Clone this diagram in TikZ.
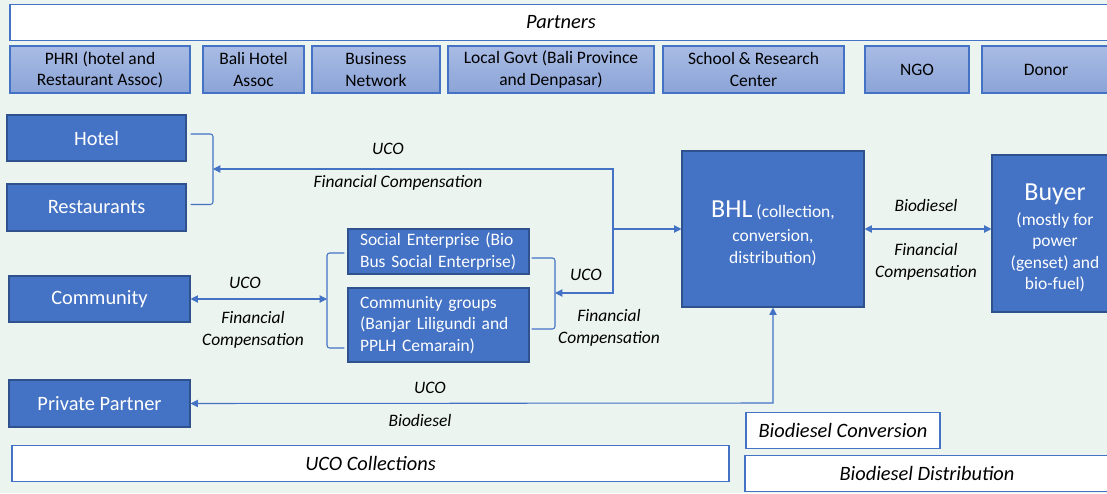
\documentclass[tikz,border=0pt]{standalone}
\usepackage{fontspec}
\setmainfont{Carlito}
\usetikzlibrary{arrows.meta, positioning}

\definecolor{bgc}{RGB}{236,244,239}
\definecolor{boxblue}{RGB}{68,114,196}
\definecolor{boxedge}{RGB}{47,82,143}
\definecolor{ptop}{RGB}{168,187,228}
\definecolor{pbot}{RGB}{139,164,215}
\newcommand\smallfnt{\fontsize{13.1}{16}\selectfont}
\newcommand\medfnt{\fontsize{15.3}{18}\selectfont}
\newcommand\bigfnt{\fontsize{19.5}{22}\selectfont}

\begin{document}
\begin{tikzpicture}[x=0.75pt,y=-0.75pt,
  sz/.style 2 args={minimum width=#1*0.75pt, minimum height=#2*0.75pt},
  actor/.style={draw=boxedge, fill=boxblue, text=white, line width=0.8pt, inner sep=0pt, align=center},
  partner/.style={draw=boxblue, top color=ptop, bottom color=pbot, line width=0.8pt, inner sep=0pt,
    align=center, font=\smallfnt, minimum height=47*0.75pt},
  band/.style={draw=boxblue, fill=white, line width=0.8pt, inner sep=0pt, font=\medfnt\itshape},
  lbl/.style={font=\smallfnt\itshape, align=center, inner sep=1pt},
  link/.style={draw=boxblue, line width=0.8pt},
  tip/.tip={Triangle[length=5.5pt,width=5.5pt]}
]
\useasboundingbox (0,0) rectangle (1107,493);
\clip (0,0) rectangle (1107,493);
\fill[bgc] (0,0) rectangle (1107,493);

\node[band, sz={1102}{36}] (partners) at (561,22.5) {Partners};
\foreach \nm/\cx/\w/\txt in {phri/100/180/{PHRI (hotel and\\Restaurant Assoc)},
    bhota/253.5/101/{Bali Hotel\\Assoc}, busnet/376/128/{Business\\Network},
    govt/551/206/{Local Govt (Bali Province\\and Denpasar)},
    school/753.5/181/{School \& Research\\Center}, ngo/917/104/{NGO}, donor/1046/128/{Donor}}
  \node[partner, minimum width=\w*0.75pt] (\nm) at (\cx,69.5) {\txt};

\node[actor, sz={179}{46}, font=\medfnt] (hotel) at (96.5,138) {Hotel};
\node[actor, sz={179}{47}, font=\medfnt] (rest) at (96.5,207.5) {Restaurants};
\node[actor, sz={181}{46}, font=\medfnt] (community) at (99.5,299) {Community};
\node[actor, sz={181}{47}, font=\medfnt] (private) at (99.5,403.5) {Private Partner};
\node[actor, sz={181}{45}, font=\smallfnt, align=left, text width=157*0.75pt, inner xsep=12*0.75pt]
  (se) at (438.5,251.5) {Social Enterprise (Bio\\Bus Social Enterprise)};
\node[actor, sz={181}{74}, font=\smallfnt, align=left, text width=157*0.75pt, inner xsep=12*0.75pt]
  (cg) at (438.5,325) {Community groups\\(Banjar Liligundi and\\PPLH Cemarain)};
\node[actor, sz={182}{156}, font=\smallfnt] (bhl) at (773,229)
  {\rule{0pt}{19pt}{\bigfnt BHL} (collection,\\[2pt]conversion,\\distribution)};
\node[actor, sz={126}{157}, font=\smallfnt] (buyer) at (1055,233.5)
  {\rule{0pt}{19pt}{\bigfnt Buyer}\\[3pt](mostly for\\power\\(genset) and\\bio-fuel)};

\node[band, sz={717}{36}] (ucocol) at (370.5,463.5) {UCO Collections};
\node[band, sz={194}{36}] (bconv) at (843,430.5) {Biodiesel Conversion};
\node[band, sz={364}{36}] (bdist) at (927,473.5) {Biodiesel Distribution};

\coordinate (hbr) at (213,169);
\coordinate (jn) at (613,229);
\coordinate (sebr) at (555,293);
\coordinate (lbr) at (327,299);
\coordinate (pc) at (773,403);

\draw[link, rounded corners=2pt] ([shift={(4,-4)}]hotel.east) -| (hbr) |- ([shift={(4,-3)}]rest.east);
\draw[link, rounded corners=2pt] ([shift={(2,6.5)}]se.east) -| (sebr) |- ([shift={(2,4)}]cg.east);
\draw[link, rounded corners=2pt] ([shift={(-3,1.5)}]se.west) -| (lbr) |- ([shift={(-3,23)}]cg.west);
\draw[link, tip-tip] (hbr) -| (jn) |- (sebr);
\draw[link, -tip] (jn) -- (bhl.west);
\draw[link, tip-tip] (community.east) -- (lbr);
\draw[link, tip-tip] (private.east) -- (pc) -- (bhl.south);
\draw[link, tip-tip] (bhl.east) -- (buyer.west |- bhl.east);

\node[lbl] (l1) at (388,149) {UCO};
\node[lbl] (l2) at (398,183) {Financial Compensation};
\node[lbl] (l3) at (245,283) {UCO};
\node[lbl] (l4) at (253,330) {Financial\\Compensation};
\node[lbl] (l5) at (586,275) {UCO};
\node[lbl] (l6) at (609,328) {Financial\\Compensation};
\node[lbl] (l7) at (430,388) {UCO};
\node[lbl] (l8) at (420,420) {Biodiesel};
\node[lbl] (l9) at (926,205) {Biodiesel};
\node[lbl] (l10) at (926,262) {Financial\\Compensation};
\end{tikzpicture}
\end{document}
